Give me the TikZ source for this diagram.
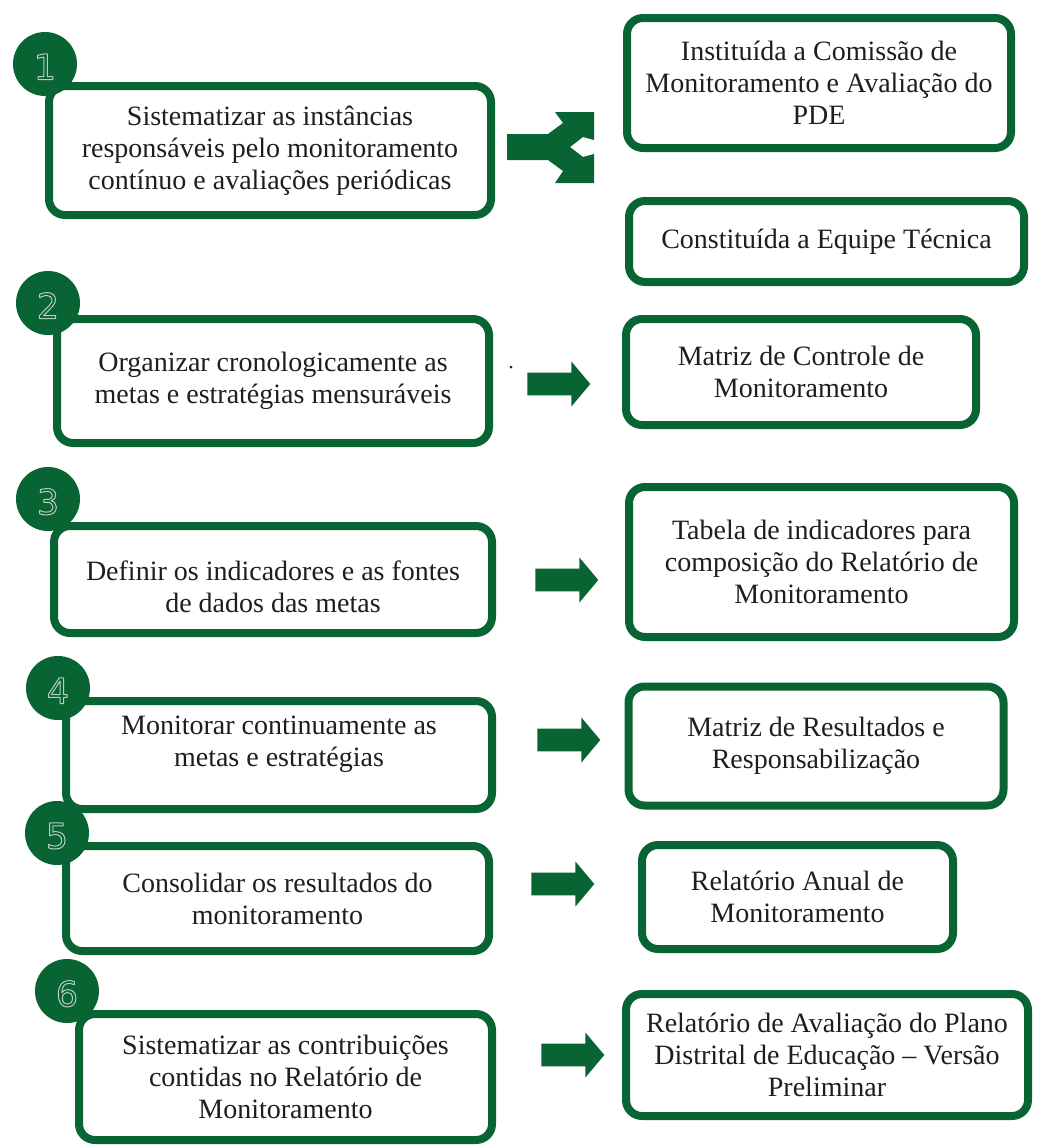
\documentclass[tikz,border=0pt]{standalone}
\usepackage{fontspec}
\setmainfont{Liberation Serif}
\newfontfamily\numfont{DejaVu Sans}
\usetikzlibrary{shapes.arrows}

\definecolor{pdegreen}{RGB}{8,100,50}
\definecolor{numline}{RGB}{185,205,190}
\definecolor{textgray}{RGB}{30,30,30}
\newcommand{\hollow}[1]{\special{pdf:literal direct 1 Tr 0.5 w}#1\special{pdf:literal direct 0 Tr}}

\begin{document}
\begin{tikzpicture}[line cap=round,line join=round,x=0.5pt,y=-0.5pt,
  box/.style={draw=pdegreen, line width=4pt, rounded corners=8pt, fill=white,
    align=center, text=textgray, inner sep=0pt, font=\fontsize{14}{16}\selectfont},
  numdot/.style={circle, fill=pdegreen, minimum size=32pt, inner sep=0pt,
    text height=15.5pt, text depth=0pt,
    text=numline, font=\numfont\fontsize{17.5}{17.5}\selectfont},
  blockarrow/.style={single arrow, fill=pdegreen, minimum height=31.5pt,
    text height=0pt, text depth=0pt, inner xsep=0pt, inner ysep=5.5pt,
    single arrow head extend=5.5pt, single arrow tip angle=100}]
\fill[white] (0,0) rectangle (1038,1146);
\useasboundingbox (0,0) rectangle (1038,1146);

% etapas
\node[box, minimum width=221pt, minimum height=64.5pt] (s1) at (270,150.5)
  {Sistematizar as instâncias\\responsáveis pelo monitoramento\\contínuo e avaliações periódicas};
\node[box, minimum width=216pt, minimum height=62pt] (s2) at (273,381)
  {Organizar cronologicamente as\\metas e estratégias mensuráveis};
\node[box, minimum width=219pt, minimum height=53.5pt, text height=33pt] (s3) at (273,579.5)
  {Definir os indicadores e as fontes\\de dados das metas};
\node[box, minimum width=213pt, minimum height=54pt, text depth=14pt] (s4) at (279,755)
  {Monitorar continuamente as\\metas e estratégias};
\node[box, minimum width=211.5pt, minimum height=52.5pt] (s5) at (277.5,898.5)
  {Consolidar os resultados do\\monitoramento};
\node[box, minimum width=206.5pt, minimum height=63pt] (s6) at (285.5,1077)
  {Sistematizar as contribuições\\contidas no Relatório de\\Monitoramento};

\node[numdot] (n1) at (45,64) {\hollow{1}};
\node[numdot] (n2) at (48,303) {\hollow{2}};
\node[numdot] (n3) at (48,499) {\hollow{3}};
\node[numdot] (n4) at (58,688) {\hollow{4}};
\node[numdot] (n5) at (57,833) {\hollow{5}};
\node[numdot] (n6) at (67,991) {\hollow{6}};

% produtos
\node[box, minimum width=192pt, minimum height=65pt] (r1) at (819,83)
  {Instituída a Comissão de\\Monitoramento e Avaliação do\\PDE};
\node[box, minimum width=197.5pt, minimum height=40.5pt] (r1b) at (826.5,241.5)
  {Constituída a Equipe Técnica};
\node[box, minimum width=175pt, minimum height=53pt] (r2) at (801,372)
  {Matriz de Controle de\\Monitoramento};
\node[box, minimum width=192.5pt, minimum height=75pt] (r3) at (821.5,562)
  {Tabela de indicadores para\\composição do Relatório de\\Monitoramento};
\node[box, minimum width=187.5pt, minimum height=59.5pt] (r4) at (816,746)
  {Matriz de Resultados e\\Responsabilização};
\node[box, minimum width=155.5pt, minimum height=52pt] (r5) at (797.5,897)
  {Relatório Anual de\\Monitoramento};
\node[box, minimum width=201pt, minimum height=61pt] (r6) at (827,1055)
  {Relatório de Avaliação do Plano\\Distrital de Educação -- Versão\\Preliminar};

% setas
\fill[pdegreen] (507,134) -- (548,134) -- (563,123) -- (555,112) -- (594,112)
  -- (594,140) -- (583,137) -- (570,147) -- (583,157) -- (594,154) -- (594,183)
  -- (555,183) -- (563,171) -- (548,160) -- (507,160) -- cycle;
\node[blockarrow] (a2) at (554,384) {};
\node[blockarrow] (a3) at (562,580) {};
\node[blockarrow] (a4) at (564,740) {};
\node[blockarrow] (a5) at (558,884) {};
\node[blockarrow] (a6) at (568,1055) {};
\fill[textgray] (511,367) circle (1.5);
\end{tikzpicture}
\end{document}
